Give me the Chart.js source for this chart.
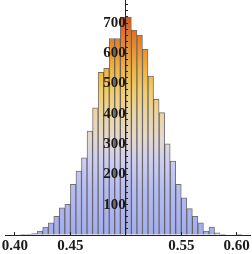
<!DOCTYPE html>
<html>
<head>
<meta charset="utf-8">
<script src="https://cdn.jsdelivr.net/npm/chart.js@4.4.1/dist/chart.umd.min.js"></script>
<style>
  html, body { margin: 0; padding: 0; background: #fff; }
  canvas { display: block; }
</style>
</head>
<body>
<canvas id="hist" width="252" height="254"></canvas>
<script>
// ── Data ──────────────────────────────────────────────────────────────────────
const binCenters = [
    0.4075, 0.4125, 0.4175, 0.4225, 0.4275, 0.4325, 0.4375, 0.4425, 0.4475, 0.4525,
    0.4575, 0.4625, 0.4675, 0.4725, 0.4775, 0.4825, 0.4875, 0.4925, 0.4975, 0.5025,
    0.5075, 0.5125, 0.5175, 0.5225, 0.5275, 0.5325, 0.5375, 0.5425, 0.5475, 0.5525,
    0.5575, 0.5625, 0.5675, 0.5725, 0.5775, 0.5825, 0.5875, 0.5925, 0.5975, 0.6025,
];
const counts = [
    1, 2, 5, 13, 26, 40, 62, 90, 101, 167,
    211, 255, 343, 420, 537, 550, 649, 649, 720, 720,
    677, 660, 613, 525, 448, 404, 301, 244, 167, 123,
    87, 62, 40, 13, 26, 7, 2, 0, 0, 2,
];
const xTickValues = [0.40, 0.45, 0.50, 0.55, 0.60];

// colour ramp by count value (blue at the bottom, red-orange at the top)
const rampStops = [
    [0, "#a2adee"],
    [150, "#b5bcf2"],
    [250, "#cecff0"],
    [320, "#e4d9cc"],
    [400, "#edd5a0"],
    [480, "#f2cc62"],
    [540, "#f1b73e"],
    [600, "#ee972f"],
    [660, "#e77623"],
    [720, "#dc5617"],
    [776, "#d04610"],
];

// ── Helpers ───────────────────────────────────────────────────────────────────
function rampGradient(ctx) {
    const chart = ctx.chart;
    const yScale = chart.scales.y;
    if (!chart.chartArea || !yScale) return rampStops[0][1];
    const y0 = yScale.getPixelForValue(0);
    const y1 = yScale.getPixelForValue(776);
    const g = chart.ctx.createLinearGradient(0, y0, 0, y1);
    rampStops.forEach(([v, c]) => g.addColorStop(v / 776, c));
    return g;
}

const axisFont = { family: "'Liberation Serif', 'DejaVu Serif', serif", size: 15, weight: "bold", lineHeight: 1 };

// ── Chart ─────────────────────────────────────────────────────────────────────
new Chart(document.getElementById("hist").getContext("2d"), {
    type: "bar",
    data: {
        datasets: [{
            data: binCenters.map((x, i) => ({ x, y: counts[i] })),
            backgroundColor: rampGradient,
            borderColor: "rgba(55, 50, 55, 0.7)",
            borderWidth: 1,
            borderSkipped: "start",
            barPercentage: 1,
            categoryPercentage: 1,
        }],
    },
    options: {
        responsive: false,
        animation: false,
        layout: { padding: { left: 5, right: 2, top: 0, bottom: 0 } },
        plugins: {
            legend: { display: false },
            tooltip: { enabled: false },
        },
        scales: {
            x: {
                type: "linear",
                min: 0.391,
                max: 0.612,
                offset: false,
                grid: { offset: false, drawOnChartArea: false, tickLength: -3, color: "#222", z: 1 },
                border: { color: "#222", width: 1, z: 1 },
                afterBuildTicks: (s) => { s.ticks = xTickValues.map((value) => ({ value })); },
                afterFit: (s) => { s.height = 19; s.paddingLeft = 0; s.paddingRight = 0; },
                ticks: {
                    z: 1,
                    padding: 7,
                    maxRotation: 0,
                    autoSkip: false,
                    color: "#1a1a1a",
                    font: axisFont,
                    callback: (v) => (Math.abs(v - 0.5) < 1e-9 ? "" : v.toFixed(2)),
                },
            },
            y: {
                position: { x: 0.5 },
                min: 0,
                max: 776,
                grid: { drawOnChartArea: false, tickLength: -3, color: "#222", z: 1 },
                border: { color: "#222", width: 1, z: 1 },
                afterFit: (s) => { s.paddingTop = 0; s.paddingBottom = 0; },
                ticks: {
                    z: 1,
                    stepSize: 20,
                    includeBounds: false,
                    autoSkip: false,
                    color: "#1a1a1a",
                    font: axisFont,
                    callback: (v) => (v > 0 && v % 100 === 0 ? String(v) : ""),
                },
            },
        },
    },
});
</script>
</body>
</html>
